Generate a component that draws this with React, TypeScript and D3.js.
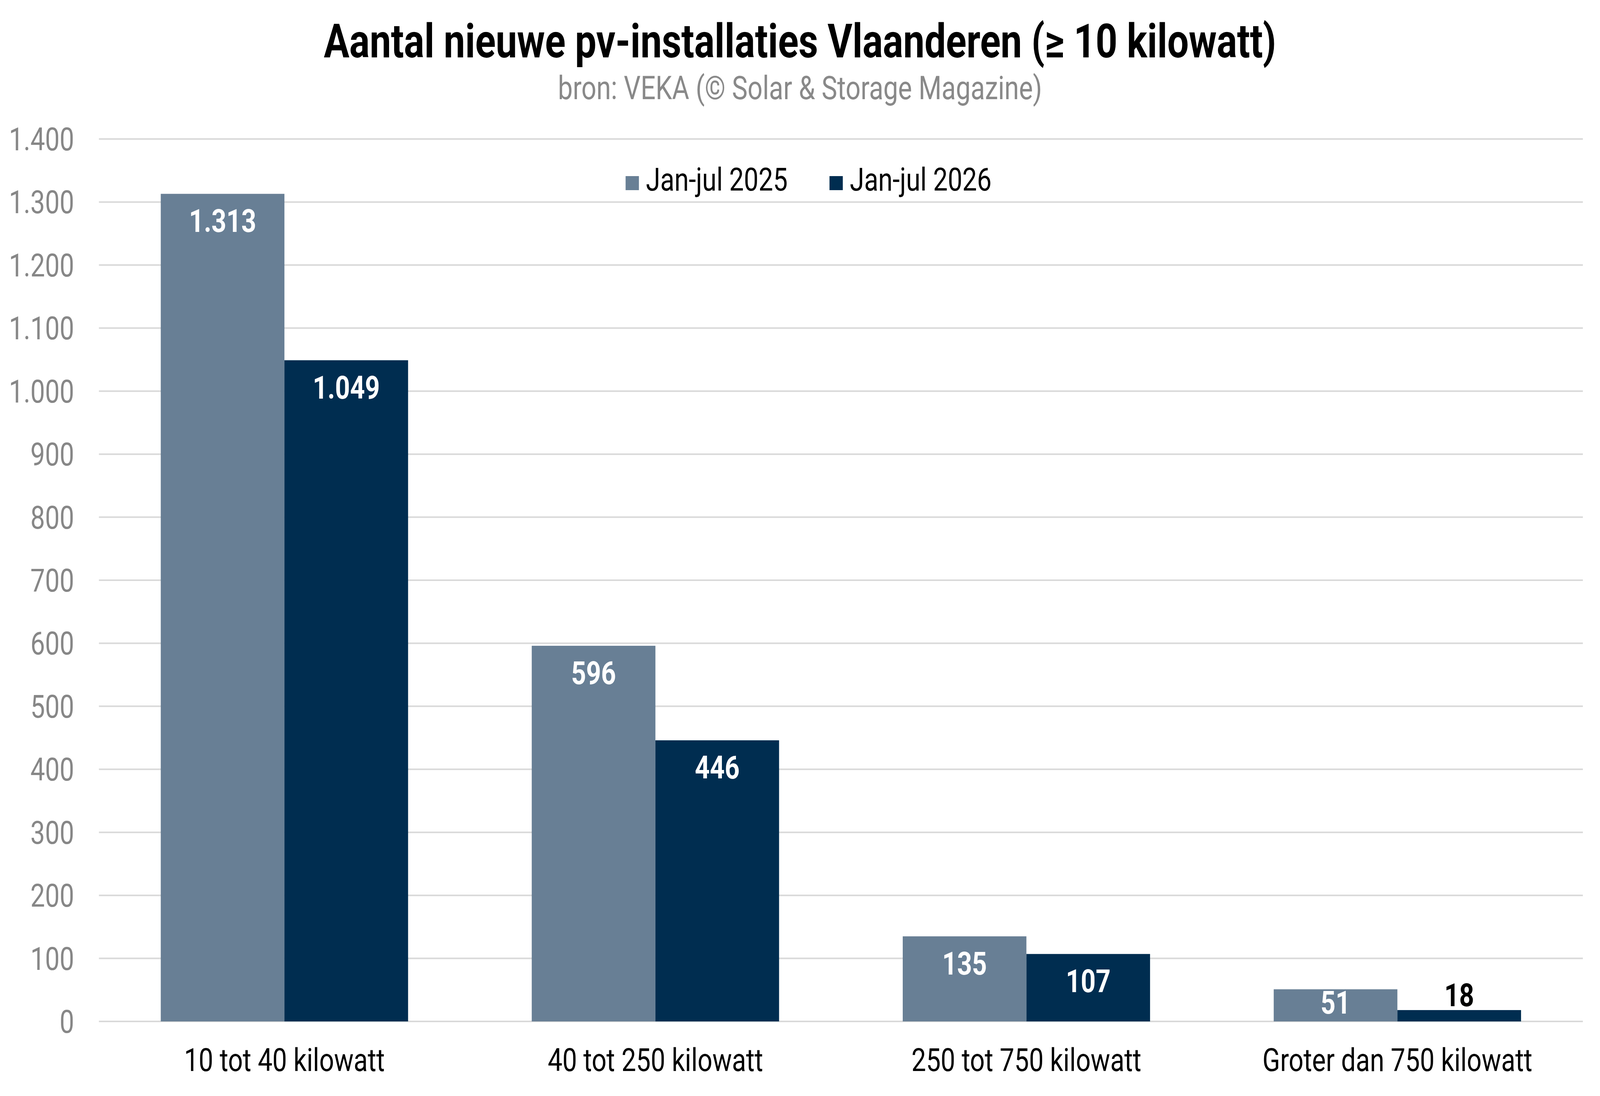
import React from "react";
import * as d3 from "d3";

const categories = ["10 tot 40 kilowatt", "40 tot 250 kilowatt", "250 tot 750 kilowatt", "Groter dan 750 kilowatt"];
const seriesNames = ["Jan-jul 2025", "Jan-jul 2026"];
const values2025 = [1313, 596, 135, 51];
const values2026 = [1049, 446, 107, 18];
const yTicks = [0, 100, 200, 300, 400, 500, 600, 700, 800, 900, 1000, 1100, 1200, 1300, 1400];
const title = "Aantal nieuwe pv-installaties Vlaanderen (≥ 10 kilowatt)";
const subtitle = "bron: VEKA (© Solar & Storage Magazine)";

const W = 5046;
const H = 2807;
const colors = ["#687f95", "#002d50"];
const FONT = "Roboto, 'Noto Sans', sans-serif";

const nl = d3.formatLocale({ decimal: ",", thousands: ".", grouping: [3], currency: ["€", ""] });
const fmt = nl.format(",d");

export default function App() {
  const plotLeft = 312;
  const plotRight = 4992;
  const y = d3.scaleLinear().domain([0, 1400]).range([2616, 356]);
  const x0 = d3.scaleBand<string>().domain(categories).range([plotLeft, plotRight]).paddingInner(1 / 3).paddingOuter(1 / 6);
  const x1 = d3.scaleBand<string>().domain(seriesNames).range([0, x0.bandwidth()]).padding(0);
  const series = [values2025, values2026];

  const legendX = 1973;
  const legendStep = 643;

  return (
    <svg
      viewBox={`0 0 ${W} ${H}`}
      preserveAspectRatio="none"
      style={{ position: "fixed", left: 0, top: 0, width: "100vw", height: "100vh", display: "block", background: "#fff" }}
      fontFamily={FONT}
    >
      <rect x={0} y={0} width={W} height={H} fill="#fff" />
      <text x={W / 2} y={147} textAnchor="middle" fontSize={120} fontWeight={700} fill="#000">{title}</text>
      <text x={W / 2} y={254} textAnchor="middle" fontSize={83} fill="#898989">{subtitle}</text>

      {yTicks.map((t) => (
        <g key={t}>
          <line x1={plotLeft} x2={plotRight} y1={y(t)} y2={y(t)} stroke="#d9d9d9" strokeWidth={4} />
          <text x={234} y={y(t) + 29} textAnchor="end" fontSize={82} fill="#878787">{fmt(t)}</text>
        </g>
      ))}

      {seriesNames.map((s, i) => (
        <g key={s}>
          <rect x={legendX + i * legendStep} y={451} width={42} height={36} fill={colors[i]} />
          <text x={legendX + i * legendStep + 64} y={488} fontSize={82} fill="#000">{s}</text>
        </g>
      ))}

      {categories.map((c, ci) => (
        <g key={c}>
          {seriesNames.map((s, si) => {
            const v = series[si][ci];
            const bx = (x0(c) as number) + (x1(s) as number);
            const bw = x1.bandwidth();
            const top = y(v);
            const h = y(0) - top;
            let ly: number;
            let fill = "#fff";
            if (h < 68) {
              ly = top - 10;
              fill = "#000";
            } else if (h < 120) {
              ly = top + h / 2 + 21;
            } else {
              ly = top + 98;
            }
            return (
              <g key={s}>
                <rect x={bx} y={top} width={bw} height={h} fill={colors[si]} />
                <text x={bx + bw / 2} y={ly} textAnchor="middle" fontSize={82} fontWeight={700} fill={fill}>{fmt(v)}</text>
              </g>
            );
          })}
          <text x={(x0(c) as number) + x0.bandwidth() / 2} y={2743} textAnchor="middle" fontSize={82} fill="#000">{c}</text>
        </g>
      ))}
    </svg>
  );
}
